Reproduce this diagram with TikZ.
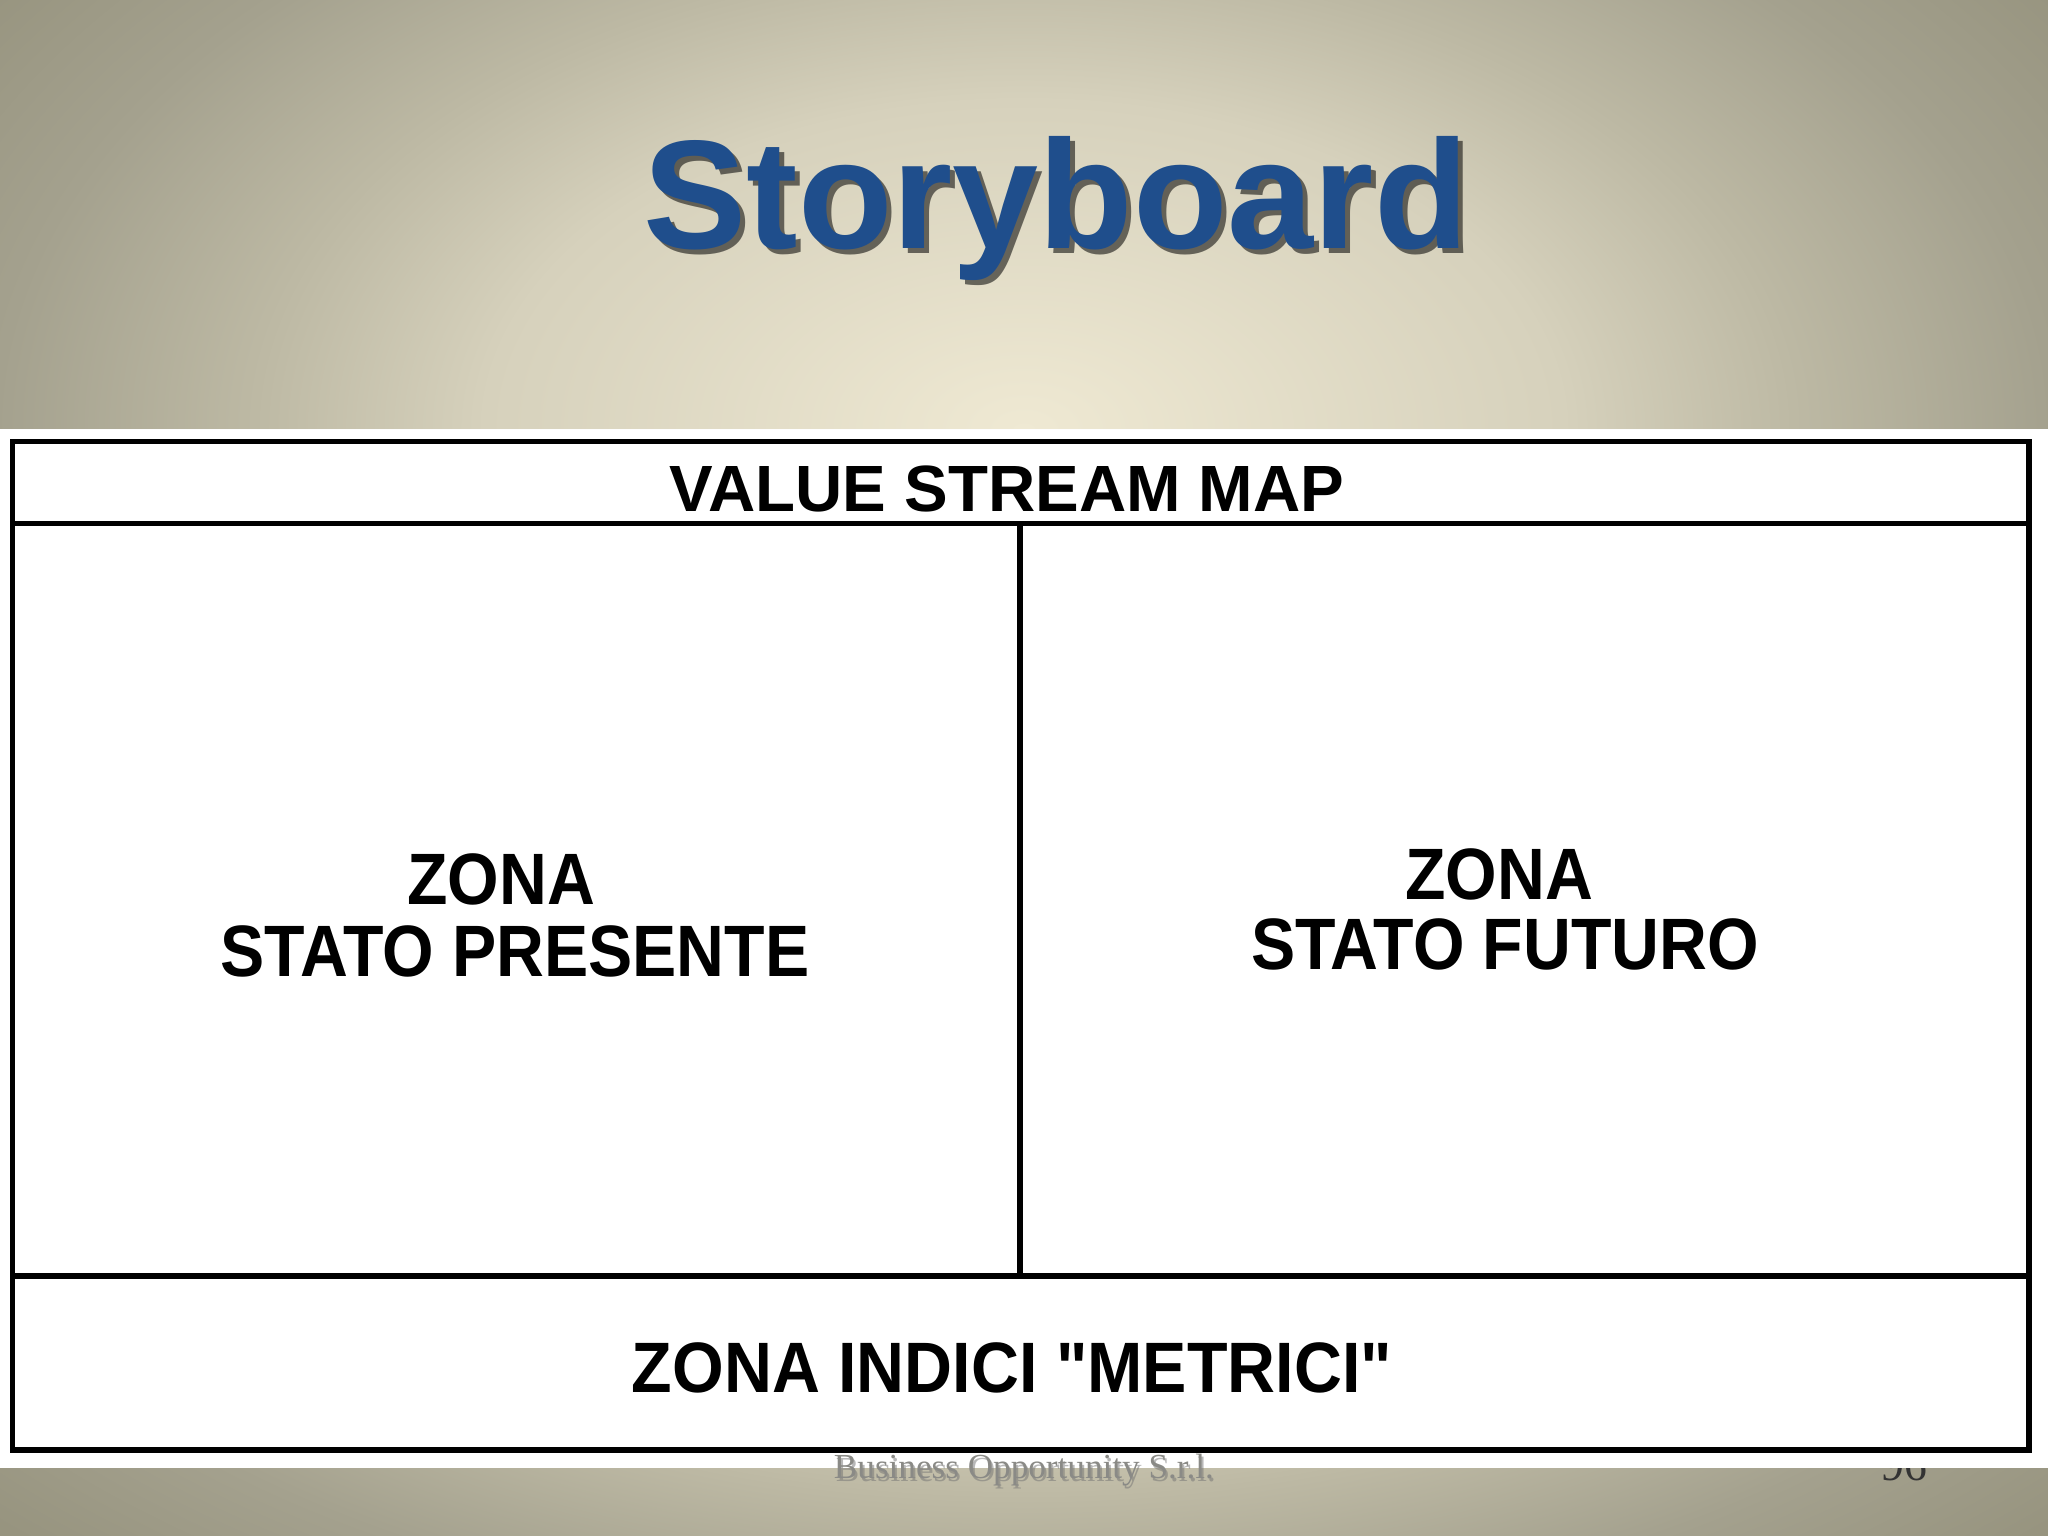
\documentclass[tikz,border=0pt]{standalone}
\usepackage{graphicx}
\usepackage{fontspec}
\setmainfont{Liberation Sans}
\newfontfamily\seriffont{Liberation Serif}
\definecolor{bgin}{HTML}{EFE9D3}
\definecolor{bgmid}{HTML}{D6D1BC}
\definecolor{bgmid2}{HTML}{BDB9A4}
\definecolor{bgedge}{HTML}{A4A18E}
\definecolor{bgout}{HTML}{97947F}
\definecolor{titleblue}{HTML}{1F4E8C}
\definecolor{footgray}{HTML}{8A8A86}
\pgfdeclareradialshading{bgshade}{\pgfpoint{0bp}{0bp}}{color(0bp)=(bgin); color(9.6bp)=(bgmid); color(13.7bp)=(bgmid2); color(18.3bp)=(bgedge); color(22.5bp)=(bgout); color(50bp)=(bgout)}
\newcommand\narrowtxt[1]{\scalebox{0.91}[1]{#1}}
\tikzset{
  frame/.style={line width=1.45pt, black},
  boxtext/.style={font=\fontsize{20.7}{24}\selectfont\bfseries, text=black, inner sep=0pt, anchor=base},
}
\begin{document}
\begin{tikzpicture}[x=0.01cm,y=-0.01cm]
\useasboundingbox (0,0) rectangle (2048,1536);
% background gradient (top)
\begin{scope}
\clip (0,0) rectangle (2048,430);
\fill[bgout] (0,0) rectangle (2048,430);
\shade[shading=bgshade] (1024,430) ellipse [x radius=1404, y radius=858];
\end{scope}
% background gradient (bottom strip)
\begin{scope}
\clip (0,1460) rectangle (2048,1536);
\fill[bgout] (0,1460) rectangle (2048,1536);
\shade[shading=bgshade] (1024,1100) ellipse [x radius=1495, y radius=728];
\end{scope}
% title
\node[font=\fontsize{44}{50}\selectfont\bfseries, text=black, opacity=0.55, inner sep=0pt, anchor=base] (titleshadow) at (1061,253) {Storyboard};
\node[font=\fontsize{44}{50}\selectfont\bfseries, text=titleblue, inner sep=0pt, anchor=base] (title) at (1056,248) {Storyboard};
% page number (partly hidden by white band)
\node[font=\seriffont\fontsize{13}{15}\selectfont, text=black!80, inner sep=0pt, anchor=base] (pagenum) at (1904,1480) {96};
% white band
\fill[white] (0,429) rectangle (2048,1468);
% frame
\coordinate (tl) at (12.5,441.5);
\coordinate (br) at (2029,1450);
\coordinate (hl) at (12.5,523.5);
\coordinate (hr) at (2029,523.5);
\coordinate (ml) at (12.5,1276);
\coordinate (mr) at (2029,1276);
\coordinate (vt) at (1020,523.5);
\coordinate (vb) at (1020,1276);
\draw[frame] (tl) rectangle (br);
\draw[frame] (hl) -- (hr);
\draw[frame] (ml) -- (mr);
\draw[frame] (vt) -- (vb);
% texts
\node[boxtext, font=\fontsize{18.6}{22}\selectfont\bfseries] (vsm) at (1007,511) {VALUE STREAM MAP};
\node[boxtext] (zl1) at (501,904) {\narrowtxt{ZONA}};
\node[boxtext] (zl2) at (515,976) {\narrowtxt{STATO PRESENTE}};
\node[boxtext] (zr1) at (1499,899) {\narrowtxt{ZONA}};
\node[boxtext] (zr2) at (1505,969) {\narrowtxt{STATO FUTURO}};
\node[boxtext, font=\fontsize{20.3}{24}\selectfont\bfseries] (zm) at (1012,1392) {\scalebox{0.93}[1]{ZONA INDICI \textquotedbl METRICI\textquotedbl}};
% footer
\node[font=\seriffont\fontsize{10}{12}\selectfont, text=black!55, opacity=0.5, inner sep=0pt, anchor=base] (footshadow) at (1026,1481) {Business Opportunity S.r.l.};
\node[font=\seriffont\fontsize{10}{12}\selectfont, text=footgray, inner sep=0pt, anchor=base] (footer) at (1024,1478) {Business Opportunity S.r.l.};
\end{tikzpicture}
\end{document}
